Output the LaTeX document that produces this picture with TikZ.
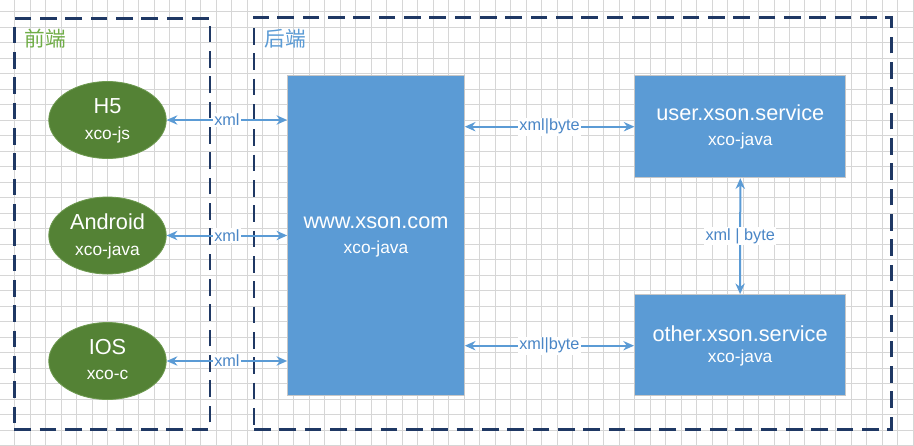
\documentclass[tikz,border=0pt]{standalone}
\usepackage{fontspec}
\setmainfont{Liberation Sans}
\newfontfamily\cjkfont{Noto Sans CJK SC}
\usetikzlibrary{arrows.meta,shapes.geometric}
\definecolor{navy}{HTML}{1F3864}
\definecolor{boxblue}{HTML}{5B9BD5}
\definecolor{leafgreen}{HTML}{548235}
\definecolor{leafedge}{HTML}{6E9A50}
\definecolor{titlegreen}{HTML}{70AD47}
\definecolor{gridgray}{HTML}{D6D6D6}
\definecolor{labelblue}{HTML}{4A86C6}
\tikzset{
  gridline/.style={draw=gridgray, line width=0.75pt},
  groupbox/.style={draw=navy, line width=1.9pt, dash pattern=on 12.5pt off 6.5pt, rectangle, inner sep=0pt},
  client/.style={ellipse, fill=leafgreen, draw=leafedge, line width=0.6pt, minimum width=117.5*0.75pt, minimum height=77*0.75pt, inner sep=0pt},
  service/.style={rectangle, fill=boxblue, draw=black!22, line width=0.75pt, inner sep=0pt},
  bigtxt/.style={text=white, font=\fontsize{16.3pt}{19pt}\selectfont, inner sep=0pt},
  smalltxt/.style={text=white, font=\fontsize{13pt}{15pt}\selectfont, inner sep=0pt},
  link/.style={draw=boxblue, line width=1.5pt, {Stealth[length=8pt,width=7pt]}-{Stealth[length=8pt,width=7pt]}},
  linklabel/.style={fill=white, text=labelblue, font=\fontsize{12.2pt}{14pt}\selectfont, inner sep=1pt},
  grouplabel/.style={font=\cjkfont\fontsize{15.5pt}{18pt}\selectfont, inner sep=0pt}
}
\begin{document}
\begin{tikzpicture}[x=0.75pt,y=-0.75pt]
\useasboundingbox (0,0) rectangle (914,446);
\fill[white] (0,0) rectangle (914,446);
\foreach \k in {1,...,59} \draw[gridline] ({15.49*\k-0.5},0) -- ({15.49*\k-0.5},446);
\foreach \k in {0,...,28} \draw[gridline] (0,{11.8+15.5*\k}) -- (914,{11.8+15.5*\k});

% group boxes
\node[groupbox, minimum width=195.7*0.75pt, minimum height=411*0.75pt] (front) at (112.15,223.8) {};
\node[groupbox, minimum width=637.3*0.75pt, minimum height=412*0.75pt] (back) at (572.65,223.3) {};
\node[grouplabel, text=titlegreen] (frontlbl) at (45.3,38.5) {前端};
\node[grouplabel, text=boxblue] (backlbl) at (285,38.5) {后端};

% clients
\node[client] (h5) at (107.5,120) {};
\node[bigtxt] (h5t) at (107.5,106) {H5};
\node[smalltxt] (h5s) at (107.5,135) {xco-js};
\node[client] (android) at (107.5,235.5) {};
\node[bigtxt] (andt) at (107.5,221.7) {Android};
\node[smalltxt] (ands) at (107.5,251) {xco-java};
\node[client] (ios) at (107.5,361) {};
\node[bigtxt] (iost) at (107.5,347) {IOS};
\node[smalltxt] (ioss) at (107.5,375) {xco-c};

% services
\node[service, minimum width=176.6*0.75pt, minimum height=319.8*0.75pt] (www) at (376,235.6) {};
\node[bigtxt] (wwwt) at (376,222.3) {www.xson.com};
\node[smalltxt] (wwws) at (376,249.3) {xco-java};
\node[service, minimum width=210.7*0.75pt, minimum height=102*0.75pt] (user) at (740.3,126.7) {};
\node[bigtxt] (usert) at (740.3,113) {user.xson.service};
\node[smalltxt] (users) at (740.3,141) {xco-java};
\node[service, minimum width=211.2*0.75pt, minimum height=101.3*0.75pt] (other) at (740.1,345.3) {};
\node[bigtxt] (othert) at (740.1,333.3) {other.xson.service};
\node[smalltxt] (others) at (740.1,358.3) {xco-java};

% links
\draw[link] (h5.east) -- node[linklabel]{xml} (h5.east -| www.west);
\draw[link] (android.east) -- node[linklabel]{xml} (android.east -| www.west);
\draw[link] (ios.east) -- node[linklabel]{xml} (ios.east -| www.west);
\draw[link] (www.east |- user.west) -- node[linklabel]{xml|byte} (user.west);
\draw[link] ([yshift=-0.4*0.75pt]www.east |- other.west) -- node[linklabel]{xml|byte} ([yshift=-0.4*0.75pt]other.west);
\draw[link] (user.south) -- node[linklabel]{xml | byte} (other.north);
\end{tikzpicture}
\end{document}
